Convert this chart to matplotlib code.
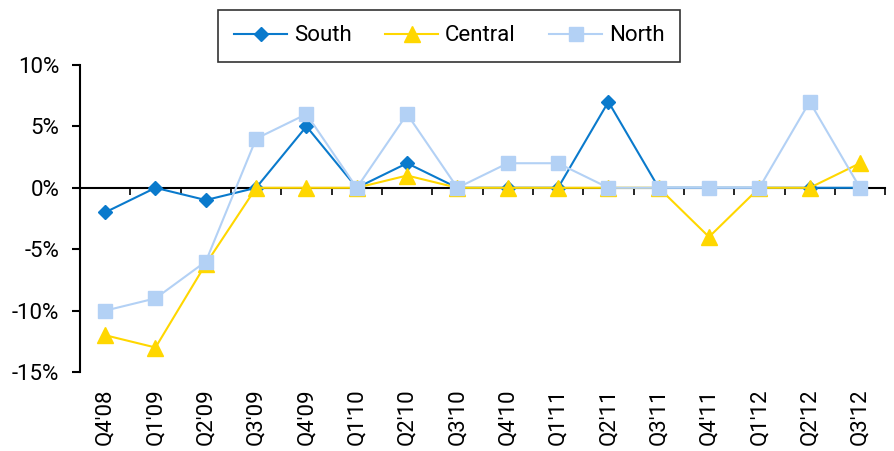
import matplotlib.pyplot as plt

quarters = ["Q4'08", "Q1'09", "Q2'09", "Q3'09", "Q4'09", "Q1'10", "Q2'10", "Q3'10",
            "Q4'10", "Q1'11", "Q2'11", "Q3'11", "Q4'11", "Q1'12", "Q2'12", "Q3'12"]
south = [-2, 0, -1, 0, 5, 0, 2, 0, 0, 0, 7, 0, 0, 0, 0, 0]
central = [-12, -13, -6.2, 0, 0, 0, 1, 0, 0, 0, 0, 0, -4, 0, 0, 2]
north = [-10, -9, -6, 4, 6, 0, 6, 0, 2, 2, 0, 0, 0, 0, 7, 0]
yticks = [-15, -10, -5, 0, 5, 10]

plt.rcParams['font.family'] = ['Roboto', 'DejaVu Sans']

fig = plt.figure(figsize=(8.95, 4.51), dpi=100)
ax = fig.add_axes([0.0894, 0.175, 0.8996, 0.681])
x = range(len(quarters))

ax.plot(x, south, color='#0A7ACC', marker='D', markersize=7.5, lw=1.5, label='South', zorder=3)
ax.plot(x, central, color='#FFD700', marker='^', markersize=11, lw=1.5, label='Central', zorder=4)
ax.plot(x, north, color='#B3D1F5', marker='s', markersize=10, lw=1.5, label='North', zorder=5)

ax.set_xlim(-0.5, len(quarters) - 0.5)
ax.set_ylim(-15, 10)
ax.set_yticks(yticks)
ax.set_yticklabels([f'{v}%' for v in yticks], fontsize=16)
ax.tick_params(axis='y', direction='out', length=6, width=1.5, pad=9)

# horizontal axis runs through zero, labels stay at the bottom
ax.spines['bottom'].set_position(('data', 0))
ax.spines['bottom'].set_linewidth(1.5)
ax.spines['left'].set_linewidth(1.5)
ax.spines['top'].set_visible(False)
ax.spines['right'].set_visible(False)
ax.set_xticks([i - 0.5 for i in range(len(quarters) + 1)])
ax.set_xticklabels([])
ax.tick_params(axis='x', direction='out', length=5, width=1.2)

sec = ax.secondary_xaxis(0)
sec.set_xticks(list(x))
sec.set_xticklabels(quarters, rotation=90, fontsize=16)
sec.tick_params(length=0, pad=12)
sec.spines['bottom'].set_visible(False)

leg = fig.legend(loc='upper center', bbox_to_anchor=(0.502, 0.978), ncol=3, fontsize=16,
                 frameon=True, fancybox=False, edgecolor='black', columnspacing=1.5,
                 handlelength=2.4, handletextpad=0.3, borderpad=0.7, borderaxespad=0)
leg.get_frame().set_linewidth(1.2)

fig.savefig('out.png', dpi=100)
